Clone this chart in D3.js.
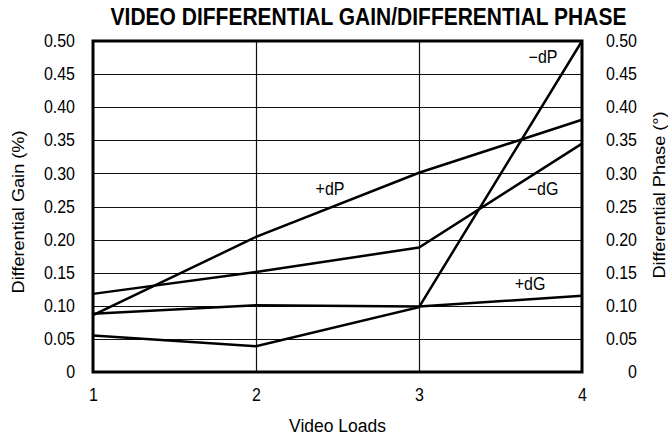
<!DOCTYPE html>
<html><head><meta charset="utf-8">
<script src="https://cdn.jsdelivr.net/npm/d3@7"></script>
<style>body{margin:0;background:#fff}svg{display:block}text{font-family:"Liberation Sans",Arial,sans-serif;fill:#000}</style>
</head><body><svg id="c" width="668" height="437"></svg>
<script>
const loads = [1, 2, 3, 4];
const plusDP = [0.086, 0.204, 0.301, 0.381];
const minusDG = [0.118, 0.151, 0.188, 0.345];
const plusDG = [0.088, 0.101, 0.099, 0.115];
const minusDP = [0.055, 0.039, 0.098, 0.50];
const yTicks = [0, 0.05, 0.10, 0.15, 0.20, 0.25, 0.30, 0.35, 0.40, 0.45, 0.50];
const seriesNames = ["−dP", "+dP", "−dG", "+dG"];
const seriesData = [minusDP, plusDP, minusDG, plusDG];
const labelX = [3.761, 2.454, 3.761, 3.681];
const labelY = [0.467, 0.267, 0.267, 0.124];

const svg = d3.select("#c");
const L = 93, R = 582, T = 41, B = 372;
const SY = 1.1; // vertical stretch of glyphs
const FF = '"Liberation Sans",Arial,sans-serif';
const x = d3.scaleLinear().domain([1, 4]).range([L, R]);
const y = d3.scaleLinear().domain([0, 0.5]).range([B, T]);

function label(px, py, txt, size, anchor, opts = {}) {
  const t = svg.append("text")
    .attr("transform", `translate(${px},${py})${opts.rot ? " rotate(-90)" : ""} scale(${opts.rot ? SY + ",1" : "1," + SY})`)
    .attr("text-anchor", anchor).attr("font-size", size).text(txt);
  if (opts.bold) t.attr("font-weight", "bold");
  return t;
}

// grid
svg.append("g").selectAll("line").data(yTicks).join("line")
  .attr("x1", L).attr("x2", R).attr("y1", d => Math.round(y(d)) + 0.5).attr("y2", d => Math.round(y(d)) + 0.5)
  .attr("stroke", "#111").attr("stroke-width", 1.2);
svg.append("g").selectAll("line").data(loads.slice(1, 3)).join("line")
  .attr("y1", T).attr("y2", B).attr("x1", d => Math.round(x(d)) + 0.5).attr("x2", d => Math.round(x(d)) + 0.5)
  .attr("stroke", "#111").attr("stroke-width", 1.2);

// axes
const fmt = d => d === 0 ? "0" : d3.format(".2f")(d);
function styleAxis(g) {
  g.select(".domain").remove();
  g.selectAll("text").attr("font-size", 16).style("font-family", FF)
    .attr("transform", `scale(1,${SY})`);
}
const la = svg.append("g").attr("transform", `translate(${L},0)`)
  .call(d3.axisLeft(y).tickValues(yTicks).tickFormat(fmt).tickSize(0).tickPadding(18));
styleAxis(la);
la.selectAll("text").attr("y", 0).attr("dy", "0.32em");
const ra = svg.append("g").attr("transform", `translate(${R},0)`)
  .call(d3.axisRight(y).tickValues(yTicks).tickFormat(fmt).tickSize(0).tickPadding(55));
styleAxis(ra);
ra.selectAll("text").attr("text-anchor", "end").attr("dy", "0.32em");
const xa = svg.append("g").attr("transform", `translate(0,${B})`)
  .call(d3.axisBottom(x).tickValues(loads).tickFormat(d3.format("d")).tickSize(0).tickPadding(0));
styleAxis(xa);
xa.selectAll("text").attr("y", 26.5).attr("dy", 0);

// frame
svg.append("rect").attr("x", L).attr("y", T).attr("width", R - L).attr("height", B - T)
  .attr("fill", "none").attr("stroke", "#000").attr("stroke-width", 3);

// lines
const line = d3.line().x((d, i) => x(loads[i])).y(d => y(d));
svg.append("g").selectAll("path").data(seriesData).join("path")
  .attr("d", d => line(d)).attr("fill", "none").attr("stroke", "#000").attr("stroke-width", 2.5)
  .attr("stroke-linejoin", "miter");
seriesNames.forEach((n, i) => label(x(labelX[i]), y(labelY[i]), n, 16, "middle"));

// titles
label(368.5, 25, "VIDEO DIFFERENTIAL GAIN/DIFFERENTIAL PHASE", 21, "middle", {bold: true});
label(337.5, 432, "Video Loads", 17.5, "middle");
label(24, 212, "Differential Gain (%)", 16.5, "middle", {rot: true});
label(665, 195, "Differential Phase (°)", 16.5, "middle", {rot: true});
</script></body></html>
